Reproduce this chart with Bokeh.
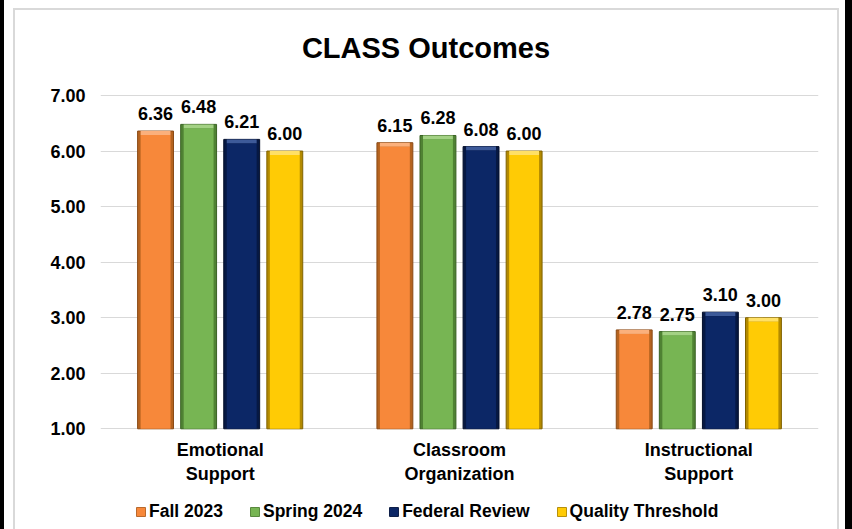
from bokeh.plotting import figure
from bokeh.models import (ColumnDataSource, FactorRange, Range1d, FixedTicker,
                          PrintfTickFormatter, Legend, LegendItem, LabelSet, Label)
from bokeh.transform import dodge
from bokeh.core.properties import value
from bokeh.embed import file_html
from bokeh.resources import INLINE

# ---- data ----
categories = ["Emotional\nSupport", "Classroom\nOrganization", "Instructional\nSupport"]
series_names = ["Fall 2023", "Spring 2024", "Federal Review", "Quality Threshold"]
fall_2023 = [6.36, 6.15, 2.78]
spring_2024 = [6.48, 6.28, 2.75]
federal_review = [6.21, 6.08, 3.10]
quality_threshold = [6.00, 6.00, 3.00]
y_ticks = [1, 2, 3, 4, 5, 6, 7]
title_text = "CLASS Outcomes"

series_values = [fall_2023, spring_2024, federal_review, quality_threshold]

# ---- styles ----
FONT = "Liberation Sans"
fills = ["#F7883A", "#77B553", "#0C2766", "#FFCB05"]
lights = ["#FBB07C", "#A3D184", "#3D5A99", "#FFE066"]
edges = ["#B5631F", "#4F8233", "#061843", "#B38A00"]
lines = ["#8A4A16", "#3A6224", "#030E2A", "#806200"]
offsets = [-0.27, -0.09, 0.09, 0.27]
bar_w = 0.15

# frame spans the full height; value axis 1..7 occupies the middle band
px_per_unit = 333.3 / 6.0
y_lo = y_ticks[0] - 100.7 / px_per_unit
y_hi = y_ticks[-1] + 95.0 / px_per_unit
cat_px = 718.0 / len(categories)
bevel_y = 4.0 / px_per_unit
inner_w = bar_w - 6.0 / cat_px

p = figure(width=852, height=529, x_range=FactorRange(factors=categories, range_padding=0),
           y_range=Range1d(y_lo, y_hi), output_backend="svg", toolbar_location=None,
           min_border_left=100, min_border_right=34, min_border_top=0, min_border_bottom=0)
p.outline_line_color = None
p.background_fill_color = None
p.border_fill_color = None
p.styles = {
    "background-color": "white",
    "background-image": ("linear-gradient(#d9d9d9,#d9d9d9), linear-gradient(#d9d9d9,#d9d9d9), "
                         "linear-gradient(#d9d9d9,#d9d9d9), linear-gradient(#000,#000), "
                         "linear-gradient(#000,#000)"),
    "background-position": "13px 8px, 13px 8px, 837px 8px, 0px 0px, 845px 0px",
    "background-size": "826px 2px, 2px 600px, 2px 600px, 4px 100%, 7px 100%",
    "background-repeat": "no-repeat",
}

items = []
for name, vals, fc, lc, ec, ln, off in zip(series_names, series_values, fills, lights,
                                           edges, lines, offsets):
    src = ColumnDataSource(dict(cat=categories, val=vals,
                                inner_top=[v - bevel_y for v in vals],
                                lbl=["%.2f" % v for v in vals]))
    xd = dodge("cat", off, range=p.x_range)
    r_out = p.vbar(x=xd, top="val", bottom=y_ticks[0], width=bar_w, source=src,
                   fill_color=ec, line_color=ln, line_width=1)
    r_top = p.vbar(x=xd, top="val", bottom="inner_top", width=inner_w, source=src,
                   fill_color=lc, line_color=None)
    r_in = p.vbar(x=xd, top="inner_top", bottom=y_ticks[0], width=inner_w, source=src,
                  fill_color=fc, line_color=None)
    items.append(LegendItem(label=name, renderers=[r_out, r_in]))
    p.add_layout(LabelSet(x=xd, y="val", text="lbl",
                          source=src, y_offset=11, text_align="center",
                          text_baseline="alphabetic", text_font=value(FONT),
                          text_font_style="bold", text_font_size="18px",
                          text_color="black"))

# category labels below the baseline
cat_src = ColumnDataSource(dict(cat=categories, base=[y_ticks[0]] * len(categories)))
p.text(x="cat", y="base", text="cat", source=cat_src, y_offset=11, text_align="center",
       text_baseline="top", text_font=value(FONT), text_font_style="bold",
       text_font_size="18px", text_color="black", text_line_height=1.2)

# axes
p.xaxis.visible = False
p.yaxis.ticker = FixedTicker(ticks=y_ticks)
p.yaxis.formatter = PrintfTickFormatter(format="%.2f")
p.yaxis.axis_line_color = None
p.yaxis.major_tick_line_color = None
p.yaxis.minor_tick_line_color = None
p.yaxis.major_tick_out = 0
p.yaxis.major_label_standoff = 15
p.yaxis.major_label_text_font = FONT
p.yaxis.major_label_text_font_style = "bold"
p.yaxis.major_label_text_font_size = "18px"
p.yaxis.major_label_text_color = "black"

p.xgrid.grid_line_color = None
p.ygrid.grid_line_color = "#d9d9d9"
p.ygrid.grid_line_width = 1

# title
p.add_layout(Label(x=325.5, y=482, x_units="screen", y_units="screen", text=title_text,
                   text_align="center", text_baseline="alphabetic", text_font=FONT,
                   text_font_style="bold", text_font_size="29px", text_color="black"))

# legend
legend = Legend(items=items, orientation="horizontal", location=(35, 7),
                glyph_width=11, glyph_height=11, label_standoff=3, spacing=26,
                label_height=20, padding=0, margin=0, border_line_color=None,
                background_fill_alpha=0, label_text_font=FONT, label_text_font_style="bold",
                label_text_font_size="17.5px", label_text_color="black")
p.add_layout(legend, "center")

open("out.html", "w").write(file_html(p, INLINE))
